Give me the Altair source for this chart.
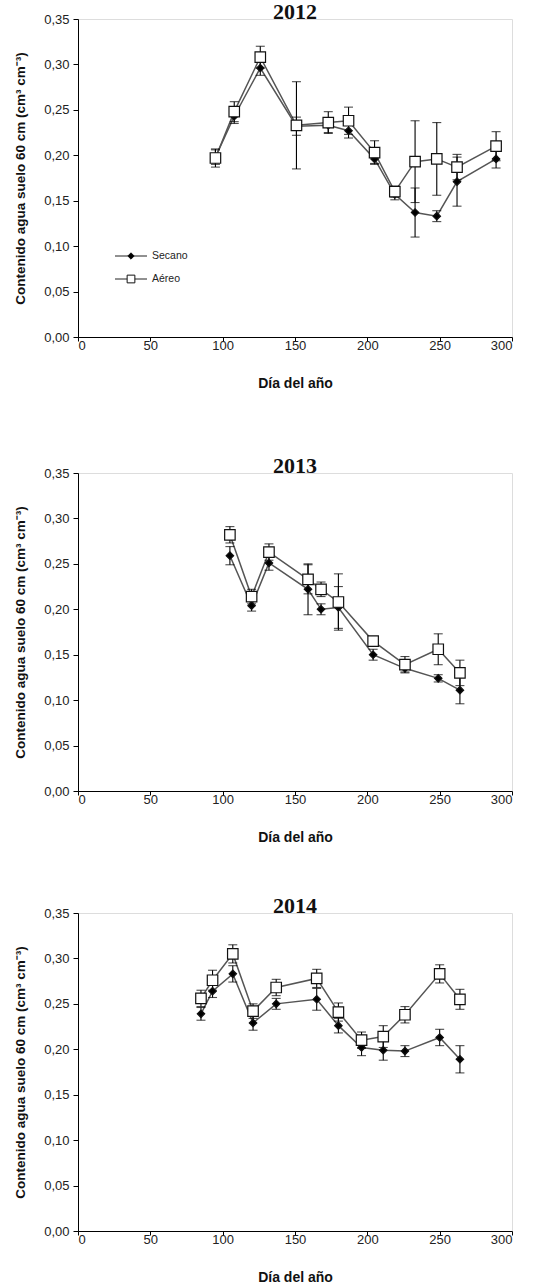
import altair as alt
import pandas as pd

# ---- 2012 ----
dias_2012 = [95, 108, 126, 151, 173, 187, 205, 219, 233, 248, 262, 289]
secano_2012 = [0.198, 0.243, 0.296, 0.232, 0.233, 0.227, 0.196, 0.157, 0.137, 0.133, 0.171, 0.196]
secano_err_2012 = [0.008, 0.008, 0.008, 0.010, 0.008, 0.008, 0.005, 0.006, 0.027, 0.006, 0.027, 0.010]
aereo_2012 = [0.197, 0.248, 0.308, 0.233, 0.236, 0.238, 0.203, 0.160, 0.193, 0.196, 0.187, 0.210]
aereo_err_2012 = [0.010, 0.011, 0.012, 0.048, 0.012, 0.015, 0.013, 0.006, 0.045, 0.040, 0.014, 0.016]

# ---- 2013 ----
dias_2013 = [105, 120, 132, 159, 168, 180, 204, 226, 249, 264]
secano_2013 = [0.259, 0.204, 0.251, 0.222, 0.200, 0.202, 0.150, 0.135, 0.124, 0.111]
secano_err_2013 = [0.010, 0.006, 0.008, 0.028, 0.006, 0.023, 0.006, 0.004, 0.004, 0.015]
aereo_2013 = [0.282, 0.214, 0.263, 0.233, 0.222, 0.208, 0.165, 0.139, 0.156, 0.130]
aereo_err_2013 = [0.009, 0.008, 0.009, 0.016, 0.008, 0.031, 0.005, 0.009, 0.017, 0.014]

# ---- 2014 ----
dias_2014 = [85, 93, 107, 121, 137, 165, 180, 196, 211, 226, 250, 264]
secano_2014 = [0.239, 0.264, 0.283, 0.229, 0.250, 0.255, 0.226, 0.202, 0.199, 0.198, 0.213, 0.189]
secano_err_2014 = [0.007, 0.007, 0.009, 0.008, 0.006, 0.012, 0.008, 0.009, 0.011, 0.006, 0.009, 0.015]
aereo_2014 = [0.256, 0.276, 0.305, 0.242, 0.268, 0.278, 0.241, 0.210, 0.214, 0.238, 0.283, 0.255]
aereo_err_2014 = [0.009, 0.011, 0.010, 0.008, 0.009, 0.010, 0.010, 0.009, 0.012, 0.009, 0.010, 0.011]

series = ["Secano", "Aéreo"]
x_ticks = [0, 50, 100, 150, 200, 250, 300]
y_ticks = [0.0, 0.05, 0.10, 0.15, 0.20, 0.25, 0.30, 0.35]

Y_TITLE = "Contenido  agua suelo 60  cm (cm³ cm⁻³)"
X_TITLE = "Día del año"
SANS = "Liberation Sans"
SERIF = "Liberation Serif"

W, H = 434, 318


def tabla(dias, sec, sec_e, aer, aer_e):
    filas = []
    for nombre, vals, errs in (("Secano", sec, sec_e), ("Aéreo", aer, aer_e)):
        for d, v, e in zip(dias, vals, errs):
            filas.append({"dia": d, "valor": v, "lo": v - e, "hi": v + e, "serie": nombre})
    return pd.DataFrame(filas)


x_axis = alt.Axis(
    title=X_TITLE, values=x_ticks, grid=False, tickSize=4, labelPadding=-2,
    domainColor="black", tickColor="black", labelColor="#222", labelFontSize=13,
    labelFont=SANS, titleFont=SANS, titleFontSize=14, titleFontWeight="bold",
    titlePadding=24, titleColor="#111",
)
y_axis = alt.Axis(
    title=Y_TITLE, values=y_ticks, grid=False, tickSize=5, labelPadding=4,
    labelExpr="replace(format(datum.value, '.2f'), '.', ',')",
    domainColor="black", tickColor="black", labelColor="#222", labelFontSize=13,
    labelFont=SANS, titleFont=SANS, titleFontSize=13.5, titleFontWeight="bold",
    titlePadding=16, titleColor="#111",
)
x_scale = alt.Scale(domain=[0, 300], nice=False, zero=False)
y_scale = alt.Scale(domain=[0, 0.35], nice=False)


def panel(anio, df, con_leyenda=False):
    base = alt.Chart(df)
    X = alt.X("dia:Q", scale=x_scale, axis=x_axis)
    lineas = base.mark_line(color="#555555", strokeWidth=1.5).encode(
        x=X, y=alt.Y("valor:Q", scale=y_scale, axis=y_axis), detail="serie:N"
    )
    barras = base.mark_rule(color="black", strokeWidth=1.1).encode(
        x=X, y=alt.Y("lo:Q", scale=y_scale, axis=y_axis), y2="hi:Q"
    )
    cap_lo = base.mark_tick(color="black", orient="horizontal", size=9, thickness=1.1).encode(
        x=X, y=alt.Y("lo:Q", scale=y_scale, axis=y_axis)
    )
    cap_hi = base.mark_tick(color="black", orient="horizontal", size=9, thickness=1.1).encode(
        x=X, y=alt.Y("hi:Q", scale=y_scale, axis=y_axis)
    )
    puntos = base.mark_point(opacity=1, stroke="#111", strokeWidth=1.2).encode(
        x=X,
        y=alt.Y("valor:Q", scale=y_scale, axis=y_axis),
        shape=alt.Shape("serie:N", scale=alt.Scale(domain=series, range=["diamond", "square"]), legend=None),
        fill=alt.Fill("serie:N", scale=alt.Scale(domain=series, range=["black", "white"]), legend=None),
        size=alt.Size("serie:N", scale=alt.Scale(domain=series, range=[55, 110]), legend=None),
    )
    capas = [lineas, barras, cap_lo, cap_hi, puntos]
    if con_leyenda:
        for i, (nombre, forma, relleno, tam) in enumerate(
            (("Secano", "diamond", "black", 40), ("Aéreo", "square", "white", 60))
        ):
            ley = alt.Chart(pd.DataFrame({"serie": [nombre]}))
            yy = 237 + 23 * i
            capas.append(ley.mark_rule(color="#222", strokeWidth=1).encode(
                x=alt.value(37), x2=alt.value(69), y=alt.value(yy)))
            capas.append(ley.mark_point(opacity=1, shape=forma, fill=relleno, stroke="#111",
                                        strokeWidth=1, size=tam).encode(
                x=alt.value(53), y=alt.value(yy)))
            capas.append(ley.mark_text(align="left", baseline="middle", font=SANS, fontSize=10.5,
                                       color="#222").encode(
                x=alt.value(74), y=alt.value(yy), text="serie:N"))
    return alt.layer(*capas).properties(
        width=W, height=H,
        title=alt.TitleParams(
            text=str(anio), font=SERIF, fontSize=22, fontWeight="bold", color="#111",
            anchor="middle", offset=-11,
        ),
    )


p1 = panel(2012, tabla(dias_2012, secano_2012, secano_err_2012, aereo_2012, aereo_err_2012), True)
p2 = panel(2013, tabla(dias_2013, secano_2013, secano_err_2013, aereo_2013, aereo_err_2013))
p3 = panel(2014, tabla(dias_2014, secano_2014, secano_err_2014, aereo_2014, aereo_err_2014))

top = alt.vconcat(p1, p2, spacing=63)
chart = alt.vconcat(top, p3, spacing=49).properties(
    padding={"left": 13, "top": 0, "right": 10, "bottom": 0}
).configure_view(stroke=None).configure(background="white")

chart.save("out.html", embed_options={"renderer": "svg", "actions": False})
